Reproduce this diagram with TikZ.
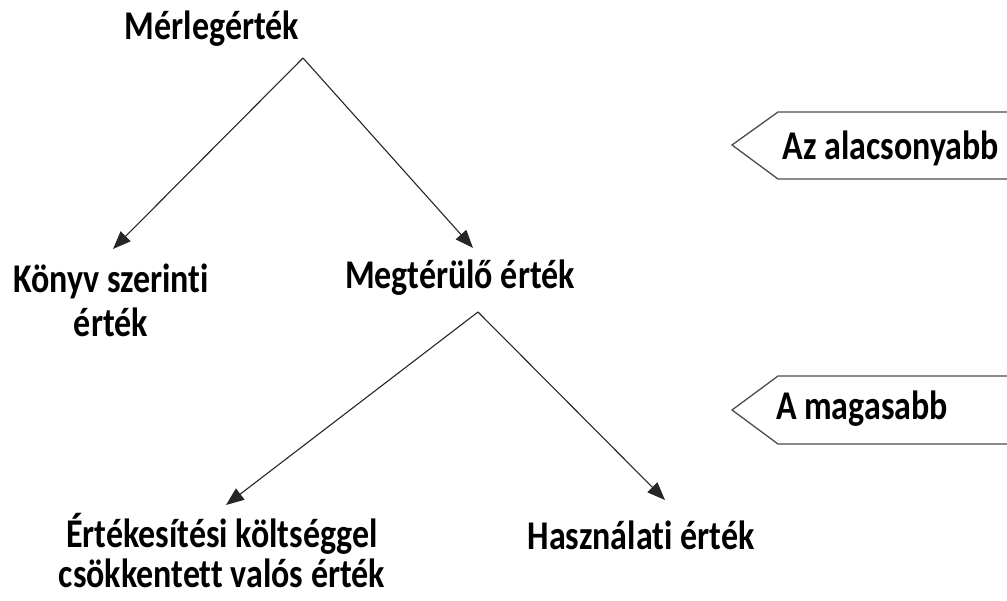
\documentclass[tikz,border=0pt]{standalone}
\usepackage{fontspec}
\setmainfont{Carlito}[Ligatures=NoCommon]
\usetikzlibrary{arrows.meta}
\newcommand\tall[1]{\scalebox{1}[1.2]{#1}}
\tikzset{
  lbl/.style={font=\fontsize{34}{44}\selectfont\bfseries, inner sep=0pt, align=center, anchor=base},
  lbltwo/.style={lbl, font=\fontsize{34}{40}\selectfont\bfseries},
  conn/.style={line width=1.1pt, draw=black!85, -{Triangle[length=18pt,width=14pt]}},
  tag/.style={line width=1.3pt, draw=black!70}
}
\begin{document}
\begin{tikzpicture}[x=1pt,y=-1pt]
\useasboundingbox (0,0) rectangle (1007,601);
% labels
\node[lbl] (merleg) at (212,40) {\tall{Mérlegérték}};
\node[lbl] (konyv) at (111,337) {\tall{Könyv szerinti}\\\tall{érték}};
\node[lbl] (megter) at (460,289) {\tall{Megtérülő érték}};
\node[lbltwo] (ertekes) at (222,587) {\tall{Értékesítési költséggel}\\\tall{csökkentett valós érték}};
\node[lbl] (haszn) at (641,549) {\tall{Használati érték}};
% tree connectors
\coordinate (apex1) at (303,58);
\coordinate (tipk) at (113,249);
\coordinate (tipm) at (473,248);
\coordinate (apex2) at (478,312);
\coordinate (tipe) at (226,505);
\coordinate (tiph) at (665,500);
\draw[conn] (apex1) -- (tipk);
\draw[conn] (apex1) -- (tipm);
\draw[conn] (apex2) -- (tipe);
\draw[conn] (apex2) -- (tiph);
% side tags
\draw[tag] (1012,112) -- (778,112) -- (732,145) -- (778,179) -- (1012,179);
\node[lbl] (alacs) at (891,160) {\tall{Az alacsonyabb}};
\draw[tag] (1012,376) -- (778,376) -- (732,410) -- (778,444) -- (1012,444);
\node[lbl] (magas) at (862,420) {\tall{A magasabb}};
\end{tikzpicture}
\end{document}
